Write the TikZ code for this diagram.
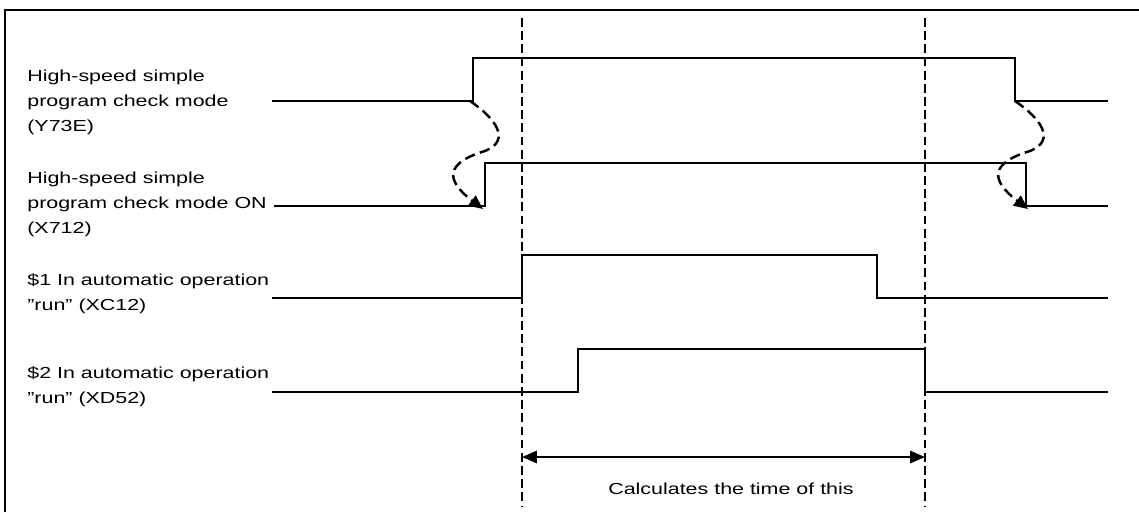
\documentclass[tikz,border=0pt]{standalone}
\usepackage{fontspec}
\setmainfont{Liberation Sans}[FakeStretch=1.34]
\usetikzlibrary{arrows.meta}
\begin{document}
\begin{tikzpicture}[x=0.02cm,y=-0.02cm,
    signal/.style={line width=0.9pt},
    marker/.style={line width=1.5pt,dash pattern=on 5pt off 2.5pt},
    handshake/.style={line width=1.4pt,dash pattern=on 6pt off 3pt,-{Triangle[length=8pt,width=7pt]}},
    span/.style={line width=1.2pt,{Triangle[length=8.5pt,width=7pt]}-{Triangle[length=8.5pt,width=7pt]}},
    lbl/.style={anchor=base west,align=left,inner sep=0pt,font=\fontsize{9.1pt}{14.2pt}\selectfont}]
    \useasboundingbox (0,0) rectangle (1139,512);
    % Frame
    \draw[line width=1.1pt] (5,512) |- (1139,10);
    % Signal names (base = last line)
    \node[lbl] (y73e) at (27,131) {High-speed simple\\program check mode\\(Y73E)};
    \node[lbl] (x712) at (27,233) {High-speed simple\\program check mode ON\\(X712)};
    \node[lbl] (xc12) at (27,310) {\$1 In automatic operation\\{\char34}run{\char34} (XC12)};
    \node[lbl] (xd52) at (27,403) {\$2 In automatic operation\\{\char34}run{\char34} (XD52)};
    % Signals
    \draw[signal] (272,101) -- (473,101) -- (473,58) -- (1015,58) -- (1015,101) -- (1108,101);
    \draw[signal] (274,206) -- (485,206) -- (485,163) -- (1026,163) -- (1026,206) -- (1108,206);
    \draw[signal] (272,298) -- (522,298) -- (522,255) -- (877,255) -- (877,298) -- (1108,298);
    \draw[signal] (272,392) -- (578,392) -- (578,349) -- (925,349) -- (925,392) -- (1108,392);
    % Y73E -> X712 response
    \foreach \dx in {0,545}
        \draw[handshake,xshift=\dx*0.02cm] (470,101) .. controls (495,118) and (512,140) .. (485,151)
            .. controls (445,163) and (445,180) .. (483,209);
    % Measured span
    \coordinate (start) at (522,457);
    \coordinate (stop) at (925,457);
    \draw[marker] (522,18) -- (522,507);
    \draw[marker] (925,18) -- (925,507);
    \draw[span] (start) -- (stop);
    \node[lbl,anchor=base] (note) at (731,494) {Calculates the time of this};
\end{tikzpicture}
\end{document}
